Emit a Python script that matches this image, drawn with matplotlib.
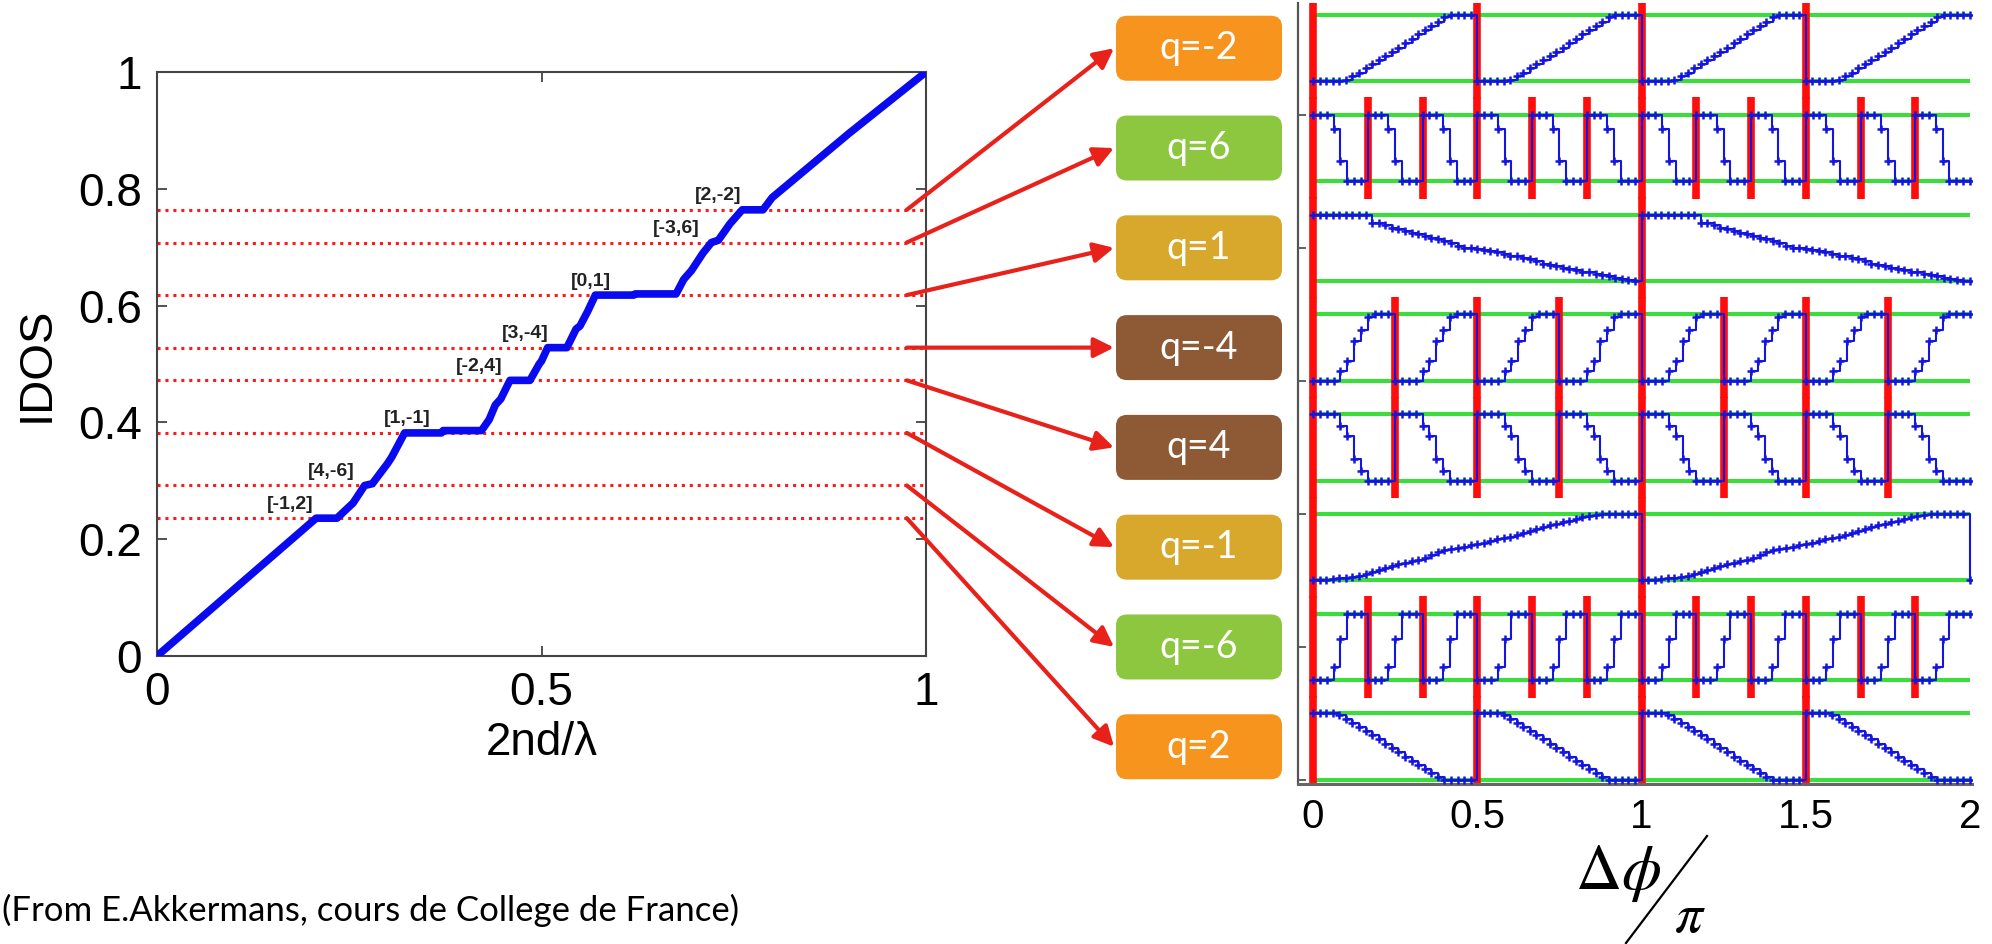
import numpy as np
import matplotlib.pyplot as plt
from matplotlib.patches import FancyBboxPatch

plt.rcParams['font.family'] = ['Liberation Sans', 'DejaVu Sans']
plt.rcParams['mathtext.fontset'] = 'stix'

# integrated density of states against 2nd/lambda (devil's staircase)
idos_x = [0.000, 0.100, 0.207, 0.234, 0.255, 0.270, 0.280, 0.300, 0.305, 0.322,
          0.370, 0.372, 0.422, 0.432, 0.440, 0.447, 0.459, 0.485, 0.497, 0.500,
          0.508, 0.533, 0.545, 0.550, 0.560, 0.570, 0.620, 0.622, 0.675, 0.685,
          0.695, 0.710, 0.721, 0.730, 0.745, 0.761, 0.788, 0.800, 0.850, 0.900,
          1.000]
idos_y = [0.000, 0.114, 0.236, 0.236, 0.262, 0.292, 0.295, 0.330, 0.340, 0.382,
          0.382, 0.386, 0.386, 0.405, 0.430, 0.440, 0.472, 0.472, 0.500, 0.505,
          0.528, 0.528, 0.560, 0.565, 0.590, 0.618, 0.618, 0.620, 0.620, 0.645,
          0.660, 0.690, 0.708, 0.712, 0.740, 0.764, 0.764, 0.785, 0.840, 0.895,
          1.000]

# gap labels [p,q], IDOS of each gap, and where the label sits
gap_labels = ['[2,-2]', '[-3,6]', '[0,1]', '[3,-4]', '[-2,4]', '[1,-1]', '[4,-6]', '[-1,2]']
gap_idos = [0.764, 0.708, 0.618, 0.528, 0.472, 0.382, 0.292, 0.236]
gap_label_x = [0.730, 0.675, 0.564, 0.479, 0.419, 0.326, 0.227, 0.173]

# winding number q of each gap and one period of its phase staircase
q_values = [-2, 6, 1, -4, 4, -1, -6, 2]
period_shapes = [
    [0, 0, 0, 0, 0, 0.02, 0.08, 0.13, 0.20, 0.26, 0.33, 0.38, 0.45, 0.51, 0.58,
     0.64, 0.71, 0.77, 0.84, 0.90, 0.97, 1, 1, 1, 1],
    [1, 1, 1, 0.78, 0.30, 0, 0, 0],
    [1, 1, 1, 1, 1, 1, 1, 1, 1,
     0.88, 0.88, 0.84, 0.80, 0.79, 0.76, 0.72, 0.71, 0.68, 0.65,
     0.63, 0.60, 0.57, 0.53, 0.50, 0.49, 0.48, 0.46, 0.45, 0.43,
     0.40, 0.38, 0.37, 0.34, 0.33, 0.30, 0.26, 0.24, 0.22, 0.20,
     0.18, 0.16, 0.14, 0.13, 0.11, 0.09, 0.07, 0.05, 0.03, 0.01, 0],
    [0, 0, 0, 0, 0.15, 0.30, 0.60, 0.76, 0.96, 1, 1, 1],
    [1, 1, 1, 1, 0.82, 0.67, 0.33, 0.15, 0, 0, 0, 0],
    [0, 0, 0.01, 0.02, 0.03, 0.04, 0.05, 0.07, 0.09, 0.12,
     0.16, 0.19, 0.22, 0.24, 0.26, 0.29, 0.31, 0.34, 0.38, 0.42,
     0.46, 0.48, 0.49, 0.51, 0.53, 0.55, 0.57, 0.59, 0.62, 0.64,
     0.66, 0.69, 0.72, 0.75, 0.78, 0.81, 0.83, 0.85, 0.88, 0.90,
     0.93, 0.95, 0.97, 0.99, 1, 1, 1, 1, 1, 1],
    [0, 0, 0, 0.20, 0.62, 1, 1, 1],
    [1, 1, 1, 1, 0.98, 0.92, 0.86, 0.80, 0.73, 0.67, 0.61, 0.54, 0.48, 0.42, 0.35,
     0.29, 0.23, 0.16, 0.10, 0.04, 0, 0, 0, 0, 0],
]
end_levels = [1, 0, 0, 1, 0, 0, 1, 0]
q_colors = ['#f7941d', '#8dc63f', '#d8a82c', '#8e5a35',
            '#8e5a35', '#d8a82c', '#8dc63f', '#f7941d']

W, H = 1992, 944
fig = plt.figure(figsize=(W / 100, H / 100), dpi=100)

# ---- left: IDOS staircase
ax = fig.add_axes([157 / W, 1 - 656 / H, 769 / W, 584 / H])
ax.plot(idos_x, idos_y, color='#0a0af0', lw=5.5, solid_capstyle='round', zorder=3)
ax.hlines(gap_idos, 0, 1, colors='#ff1a1a', linestyles=(0, (1, 1.6)), lw=2.2, zorder=2)
for lab, lx, ly in zip(gap_labels, gap_label_x, gap_idos):
    ax.text(lx, ly + 0.024, lab, ha='center', va='center', fontsize=14,
            fontweight='bold', color='#222222', zorder=4)
ax.set_xlim(0, 1)
ax.set_ylim(0, 1)
ax.set_xticks([0, 0.5, 1])
ax.set_xticklabels(['0', '0.5', '1'])
ax.set_yticks([0, 0.2, 0.4, 0.6, 0.8, 1])
ax.set_yticklabels(['0', '0.2', '0.4', '0.6', '0.8', '1'])
ax.tick_params(direction='in', top=True, right=True, length=7, width=1.2,
               labelsize=33, pad=11, color='#333333')
for s in ax.spines.values():
    s.set_color('#444444')
    s.set_linewidth(1.5)
ax.set_xlabel('2nd/λ', fontsize=33, labelpad=4)
ax.set_ylabel('IDOS', fontsize=34, labelpad=14)

# ---- right: phase staircases, one strip per gap
axr = fig.add_axes([1298 / W, 1 - 784 / H, 674 / W, 781 / H])
axr.set_xlim(-0.0457, 2.006)
axr.set_ylim(-0.06, 11.68)
n_strips = len(q_values)
strip_base = []
for i, (q, shape, end) in enumerate(zip(q_values, period_shapes, end_levels)):
    base = (n_strips - 1 - i) * 1.5
    strip_base.append(base)
    nq = abs(q)
    levels = np.tile(shape, 2 * nq)
    x = np.arange(len(levels)) / (len(shape) * nq)
    x = np.append(x, 2.0)
    levels = np.append(levels, end)
    axr.hlines([base, base + 1], 0, 2, color='#3ddc3d', lw=3, zorder=1)
    axr.vlines(np.arange(2 * nq) / nq, base - 0.26, base + 1.26,
               color='#ff0d0d', lw=5.5, zorder=2)
    axr.plot(x, base + levels, drawstyle='steps-post', color='#1515e0', lw=1.5,
             marker='+', ms=6, mew=1.8, zorder=3)
axr.set_xticks([0, 0.5, 1, 1.5, 2])
axr.set_xticklabels(['0', '0.5', '1', '1.5', '2'])
axr.set_yticks([0, 2, 4, 6, 8, 10])
axr.set_yticklabels([])
axr.tick_params(axis='y', direction='in', length=6, width=1.2, color='#444444')
axr.tick_params(axis='x', direction='in', length=0, labelsize=29, pad=10)
axr.spines['top'].set_visible(False)
axr.spines['right'].set_visible(False)
axr.spines['left'].set_color('#555555')
axr.spines['bottom'].set_color('#666666')
axr.spines['left'].set_linewidth(1.6)
axr.spines['bottom'].set_linewidth(2.2)

# ---- overlay in pixel units: q boxes, arrows, labels
ov = fig.add_axes([0, 0, 1, 1], facecolor='none', zorder=5)
ov.set_xlim(0, W)
ov.set_ylim(H, 0)
ov.axis('off')

box_x0, box_w, box_h = 1116, 166, 65
for q, col, base, lv in zip(q_values, q_colors, strip_base, gap_idos):
    yc = H - axr.transData.transform((0, base + 0.5))[1]
    ov.add_patch(FancyBboxPatch((box_x0, yc - box_h / 2), box_w, box_h,
                                boxstyle='round,pad=0,rounding_size=11',
                                fc=col, ec='none'))
    ov.text(box_x0 + box_w / 2, yc, f'q={q}', color='white', fontsize=27,
            family='Lato', ha='center', va='center')
    ov.annotate('', xy=(box_x0 - 2, yc), xycoords='data',
                xytext=(0.975, lv), textcoords=ax.transData,
                arrowprops=dict(arrowstyle='-|>', color='#e8221b', lw=3,
                                mutation_scale=30, shrinkA=0, shrinkB=0))

# axis label of the right panel: delta phi over pi
ov.text(1618, 874, r'$\Delta\phi$', fontsize=46, ha='center', va='center')
ov.plot([1626, 1707], [943, 836], color='black', lw=1.6)
ov.text(1690, 918, r'$\pi$', fontsize=40, ha='center', va='center')

ov.text(2, 910, '(From E.Akkermans, cours de College de France)', fontsize=25,
        family='Lato', ha='left', va='center')

fig.savefig('out.png', dpi=100, facecolor='white')
